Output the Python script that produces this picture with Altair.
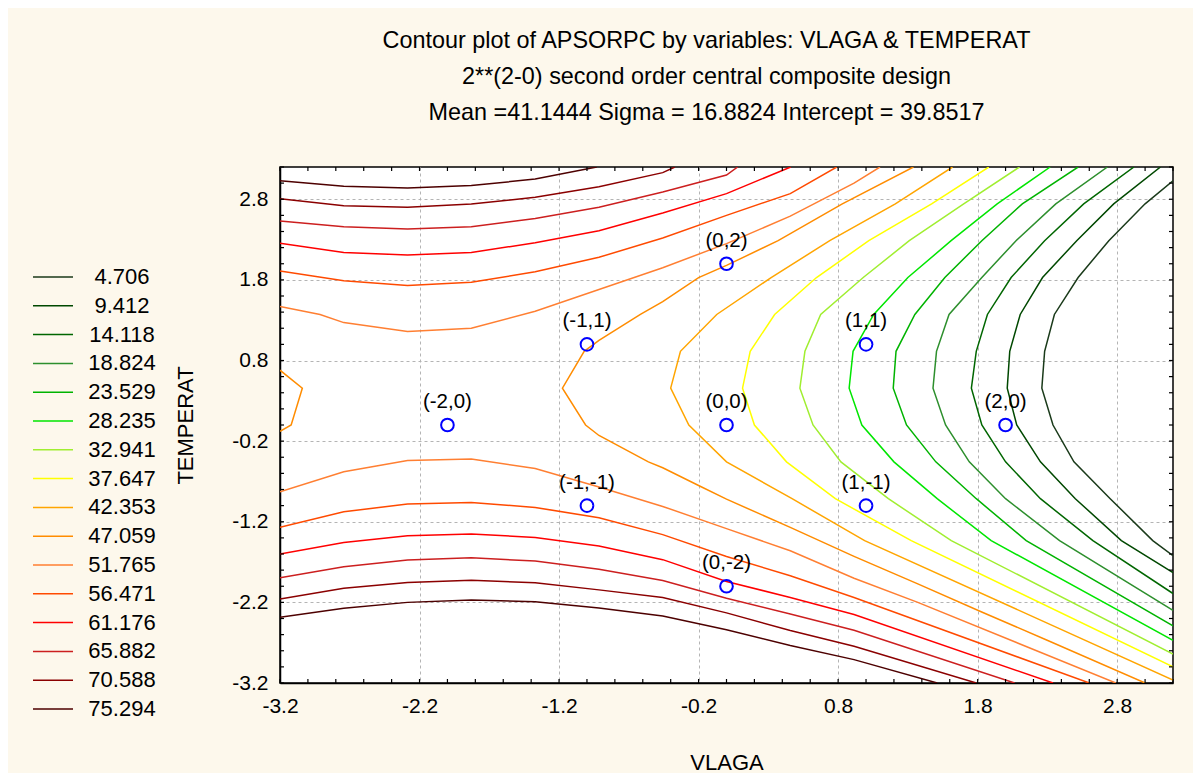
import altair as alt
import pandas as pd

TITLE = ["Contour plot of APSORPC by variables: VLAGA & TEMPERAT",
         "2**(2-0) second order central composite design",
         "Mean =41.1444 Sigma = 16.8824 Intercept = 39.8517"]

LEVELS = ["4.706", "9.412", "14.118", "18.824", "23.529", "28.235", "32.941", "37.647",
          "42.353", "47.059", "51.765", "56.471", "61.176", "65.882", "70.588", "75.294"]
COLORS = ["#1a3a1a", "#004800", "#006600", "#2d8f2d", "#00b300", "#00e600", "#a0ee30", "#ffff00",
          "#ffa500", "#ff8c00", "#ff7f32", "#ff4a00", "#ff0000", "#cc1f1f", "#8b0000", "#4d0000"]

# contour polylines (x = VLAGA, y = TEMPERAT)
C04706 = [(3.2, 3.03), (3.0, 2.743), (2.74, 2.286), (2.52, 1.829), (2.35, 1.371), (2.28, 0.914),
          (2.26, 0.457), (2.34, 0.0), (2.49, -0.457), (2.75, -0.914), (3.055, -1.434), (3.2, -1.62)]
C09412 = [(3.11, 3.2), (2.775, 2.743), (2.51, 2.286), (2.265, 1.829), (2.105, 1.371), (2.03, 0.914),
          (2.012, 0.457), (2.08, 0.0), (2.25, -0.457), (2.5, -0.914), (2.83, -1.434), (3.2, -1.83)]
C14118 = [(2.92, 3.2), (2.56, 2.743), (2.28, 2.286), (2.04, 1.829), (1.87, 1.371), (1.79, 0.914),
          (1.755, 0.457), (1.83, 0.0), (2.0, -0.457), (2.25, -0.914), (2.626, -1.434), (3.2, -2.09)]
C18824 = [(2.73, 3.2), (2.36, 2.743), (2.075, 2.286), (1.83, 1.829), (1.595, 1.371), (1.505, 0.914),
          (1.48, 0.457), (1.57, 0.0), (1.74, -0.457), (2.0, -0.914), (2.387, -1.434), (3.2, -2.30)]
C23529 = [(2.52, 3.2), (2.12, 2.743), (1.83, 2.286), (1.565, 1.829), (1.35, 1.371), (1.215, 0.914),
          (1.195, 0.457), (1.29, 0.0), (1.50, -0.457), (1.79, -0.914), (2.148, -1.434), (3.2, -2.49)]
C28235 = [(2.32, 3.2), (1.94, 2.743), (1.61, 2.286), (1.30, 1.829), (1.055, 1.371), (0.907, 0.914),
          (0.879, 0.457), (0.97, 0.0), (1.2, -0.457), (1.51, -0.914), (1.897, -1.434), (3.2, -2.67)]
C32941 = [(2.10, 3.2), (1.70, 2.743), (1.31, 2.286), (0.98, 1.829), (0.675, 1.371), (0.562, 0.914),
          (0.526, 0.457), (0.62, 0.0), (0.82, -0.457), (1.16, -0.914), (1.611, -1.434), (3.2, -2.84)]
C37647 = [(1.88, 3.2), (1.47, 2.743), (1.02, 2.286), (0.645, 1.829), (0.345, 1.371), (0.17, 0.914),
          (0.115, 0.457), (0.2, 0.0), (0.43, -0.457), (0.78, -0.914), (1.324, -1.434), (3.2, -3.0)]
C42353 = [(1.62, 3.2), (1.21, 2.743), (0.74, 2.286), (0.32, 1.829), (-0.07, 1.371), (-0.33, 0.914),
          (-0.40, 0.457), (-0.27, 0.0), (0.0, -0.457), (0.47, -0.914), (0.99, -1.434), (3.2, -3.163)]
C47059_MAIN = [(1.34, 3.2), (0.83, 2.743), (0.37, 2.286), (0.0, 1.98), (-0.2, 1.829), (-0.457, 1.53),
               (-0.617, 1.371), (-0.914, 1.05), (-1.02, 0.914), (-1.176, 0.457), (-1.01, 0.0),
               (-0.914, -0.13), (-0.56, -0.457), (-0.457, -0.53), (-0.2, -0.75), (0.0, -0.92),
               (0.457, -1.27), (0.914, -1.63), (1.371, -1.97), (1.829, -2.32), (2.286, -2.66), (3.0, -3.2)]
C47059_LEFT = [(-3.2, 0.68), (-3.04, 0.457), (-3.12, 0.0), (-3.2, -0.08)]
C51765_TOP = [(-3.2, 1.47), (-2.913, 1.371), (-2.743, 1.27), (-2.286, 1.16), (-1.829, 1.20), (-1.371, 1.41),
              (-0.914, 1.68), (-0.457, 1.95), (0.0, 2.25), (0.457, 2.59), (0.914, 3.0), (1.1, 3.2)]
C51765_BOT = [(-3.2, -0.828), (-2.743, -0.58), (-2.286, -0.44), (-1.829, -0.423), (-1.371, -0.539),
              (-0.914, -0.77), (-0.457, -1.01), (0.0, -1.285), (0.457, -1.56), (0.914, -1.90),
              (1.371, -2.2), (2.79, -3.2)]
C56471_TOP = [(-3.2, 1.91), (-2.743, 1.79), (-2.286, 1.73), (-1.829, 1.77), (-1.371, 1.90), (-0.914, 2.08),
              (-0.457, 2.32), (0.0, 2.60), (0.457, 2.87), (0.79, 3.2)]
C56471_BOT = [(-3.2, -1.27), (-2.743, -1.076), (-2.286, -0.981), (-1.829, -0.96), (-1.371, -1.022),
              (-0.914, -1.15), (-0.457, -1.36), (0.0, -1.63), (0.457, -1.87), (0.914, -2.14), (2.60, -3.2)]
C61176_TOP = [(-3.2, 2.255), (-2.743, 2.14), (-2.286, 2.11), (-1.829, 2.14), (-1.371, 2.26), (-0.914, 2.41),
              (-0.457, 2.63), (0.0, 2.87), (0.46, 3.2)]
C61176_BOT = [(-3.2, -1.601), (-2.743, -1.456), (-2.286, -1.374), (-1.829, -1.353), (-1.371, -1.394),
              (-0.914, -1.50), (-0.457, -1.67), (0.0, -1.94), (0.457, -2.14), (0.914, -2.35), (2.34, -3.2)]
C65882_TOP = [(-3.2, 2.53), (-2.743, 2.46), (-2.286, 2.43), (-1.829, 2.46), (-1.371, 2.56), (-0.914, 2.70),
              (-0.457, 2.89), (0.0, 3.1), (0.08, 3.2)]
C65882_BOT = [(-3.2, -1.894), (-2.743, -1.758), (-2.286, -1.675), (-1.829, -1.646), (-1.371, -1.688),
              (-0.914, -1.79), (-0.457, -1.93), (0.0, -2.15), (0.457, -2.343), (0.914, -2.545), (2.065, -3.2)]
C70588_TOP = [(-3.2, 2.805), (-2.743, 2.72), (-2.286, 2.70), (-1.829, 2.74), (-1.371, 2.825), (-0.914, 2.955),
              (-0.457, 3.13), (-0.37, 3.2)]
C70588_BOT = [(-3.2, -2.159), (-2.743, -2.026), (-2.286, -1.952), (-1.829, -1.927), (-1.371, -1.956),
              (-0.914, -2.045), (-0.457, -2.14), (0.0, -2.33), (0.457, -2.55), (0.914, -2.745), (1.79, -3.2)]
C75294_TOP = [(-3.2, 3.03), (-2.743, 2.96), (-2.286, 2.94), (-1.829, 2.97), (-1.371, 3.05), (-0.93, 3.2)]
C75294_BOT = [(-3.2, -2.386), (-2.743, -2.274), (-2.286, -2.20), (-1.829, -2.171), (-1.371, -2.192),
              (-0.914, -2.27), (-0.457, -2.37), (0.0, -2.54), (0.457, -2.736), (0.914, -2.91), (1.51, -3.2)]

PIECES = [("4.706", C04706), ("9.412", C09412), ("14.118", C14118), ("18.824", C18824),
          ("23.529", C23529), ("28.235", C28235), ("32.941", C32941), ("37.647", C37647),
          ("42.353", C42353), ("47.059", C47059_MAIN), ("47.059", C47059_LEFT),
          ("51.765", C51765_TOP), ("51.765", C51765_BOT), ("56.471", C56471_TOP), ("56.471", C56471_BOT),
          ("61.176", C61176_TOP), ("61.176", C61176_BOT), ("65.882", C65882_TOP), ("65.882", C65882_BOT),
          ("70.588", C70588_TOP), ("70.588", C70588_BOT), ("75.294", C75294_TOP), ("75.294", C75294_BOT)]

# design points
PT_X = [-2, -1, -1, 0, 0, 0, 1, 1, 2]
PT_Y = [0, 1, -1, 2, 0, -2, 1, -1, 0]
PT_LABEL = ["(-2,0)", "(-1,1)", "(-1,-1)", "(0,2)", "(0,0)", "(0,-2)", "(1,1)", "(1,-1)", "(2,0)"]

AXIS_VALUES = [-3.2, -2.2, -1.2, -0.2, 0.8, 1.8, 2.8]
MINOR_TICKS = [-3.2, -3.0, -2.8, -2.6, -2.4, -2.2, -2.0, -1.8, -1.6, -1.4, -1.2, -1.0, -0.8, -0.6, -0.4,
               -0.2, 0.0, 0.2, 0.4, 0.6, 0.8, 1.0, 1.2, 1.4, 1.6, 1.8, 2.0, 2.2, 2.4, 2.6, 2.8, 3.0, 3.2]

FONT = "Liberation Sans"
W, H = 893, 516
HYPHEN_LABEL = "replace(datum.label, '\u2212', '-')"

rows = []
for k, (lev, pts) in enumerate(PIECES):
    for i, (x, y) in enumerate(pts):
        rows.append({"level": lev, "piece": k, "i": i, "x": x, "y": y})
lines_df = pd.DataFrame(rows)
pts_df = pd.DataFrame({"x": PT_X, "y": PT_Y, "label": PT_LABEL})
ticks_df = pd.DataFrame({"x": MINOR_TICKS, "y": MINOR_TICKS})

XS = alt.Scale(domain=[-3.2, 3.2], nice=False, zero=False)
YS = alt.Scale(domain=[-3.2, 3.2], nice=False, zero=False)
XA = alt.Axis(values=AXIS_VALUES, format=".1f", labelExpr=HYPHEN_LABEL, title="VLAGA", labelFlush=False,
              ticks=False, labelPadding=12, titlePadding=36, grid=True)
YA = alt.Axis(values=AXIS_VALUES, format=".1f", labelExpr=HYPHEN_LABEL, title="TEMPERAT", labelFlush=False,
              ticks=False, labelPadding=12, titlePadding=34, grid=True)

lines = alt.Chart(lines_df).mark_line(strokeWidth=1.5, clip=True).encode(
    x=alt.X("x:Q", scale=XS, axis=XA),
    y=alt.Y("y:Q", scale=YS, axis=YA),
    color=alt.Color("level:N", scale=alt.Scale(domain=LEVELS, range=COLORS),
                    legend=alt.Legend(title=None, orient="none", legendX=-248, legendY=100,
                                      symbolType="stroke", symbolSize=1600, symbolStrokeWidth=1.5,
                                      labelFontSize=22, labelFont=FONT, labelColor="black",
                                      clipHeight=20, rowPadding=6.8, labelOffset=48, labelAlign="center",
                                      padding=0, labelLimit=300)),
    detail="piece:N",
    order="i:Q",
)

tick_base = alt.Chart(ticks_df).mark_rule(color="black", strokeWidth=1.2)
t_bottom = tick_base.encode(x=alt.X("x:Q", scale=XS, axis=XA), y=alt.value(H), y2=alt.value(H - 4))
t_top = tick_base.encode(x=alt.X("x:Q", scale=XS, axis=XA), y=alt.value(0), y2=alt.value(4))
t_left = tick_base.encode(y=alt.Y("y:Q", scale=YS, axis=YA), x=alt.value(0), x2=alt.value(4))
t_right = tick_base.encode(y=alt.Y("y:Q", scale=YS, axis=YA), x=alt.value(W), x2=alt.value(W - 4))

points = alt.Chart(pts_df).mark_point(shape="circle", size=160, filled=False, color="#0000ff",
                                      strokeWidth=2, opacity=1).encode(
    x=alt.X("x:Q", scale=XS, axis=XA), y=alt.Y("y:Q", scale=YS, axis=YA))
labels = alt.Chart(pts_df).mark_text(dy=-23, fontSize=20.5, font=FONT, color="black").encode(
    x=alt.X("x:Q", scale=XS, axis=XA), y=alt.Y("y:Q", scale=YS, axis=YA), text="label:N")

chart = alt.layer(lines, t_bottom, t_top, t_left, t_right, points, labels).properties(
    width=W, height=H,
    autosize="none",
    padding={"left": 272, "top": 159, "right": 20, "bottom": 90},
    background="#FDF8EC",
    title=alt.TitleParams(text=TITLE, fontSize=23.4, font=FONT, fontWeight="normal", lineHeight=36,
                          anchor="middle", dx=-20, offset=41, color="black"),
).configure_view(
    stroke="black", strokeWidth=1.5, fill="white"
).configure_axis(
    labelFont=FONT, titleFont=FONT, labelFontSize=21, titleFontSize=22, titleFontWeight="normal",
    labelColor="black", titleColor="black", domainColor="black", domainWidth=1.5,
    gridColor="#b4b4b4", gridDash=[3, 3], gridWidth=1,
)

chart.save("out.html", embed_options={"renderer": "svg", "actions": False})
